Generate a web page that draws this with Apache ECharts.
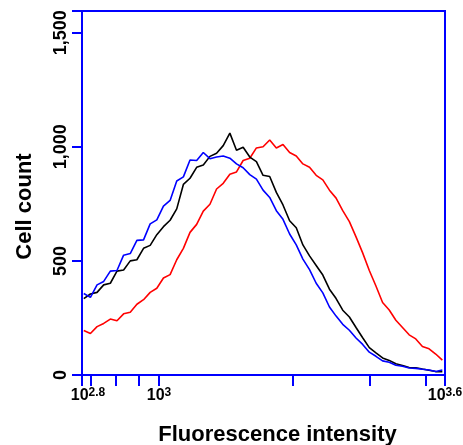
<!DOCTYPE html>
<html>
<head>
<meta charset="utf-8">
<style>
  html, body { margin: 0; padding: 0; background: #fff; }
  #histChart { width: 463px; height: 445px; }
</style>
<script src="https://cdn.jsdelivr.net/npm/echarts@6/dist/echarts.min.js"></script>
</head>
<body>
<div id="histChart"></div>

<script>
// bin positions, log10 of fluorescence intensity
const binLog = [2.83, 2.845, 2.86, 2.875, 2.89, 2.905, 2.92, 2.935, 2.95, 2.965,
  2.98, 2.995, 3.01, 3.025, 3.04, 3.055, 3.07, 3.085, 3.1, 3.115,
  3.13, 3.145, 3.16, 3.175, 3.19, 3.205, 3.22, 3.235, 3.25, 3.265,
  3.28, 3.295, 3.31, 3.325, 3.34, 3.355, 3.37, 3.385, 3.4, 3.415,
  3.43, 3.445, 3.46, 3.475, 3.49, 3.505, 3.52, 3.535, 3.55, 3.565,
  3.58, 3.595, 3.61, 3.625, 3.64];

// cell counts per bin
const redCounts = [195, 182, 212, 226, 245, 238, 268, 275, 310, 330,
  362, 380, 425, 440, 505, 555, 625, 660, 718, 748,
  815, 840, 880, 890, 940, 950, 995, 1000, 1030, 995,
  1010, 975, 960, 925, 910, 875, 855, 810, 775, 720,
  672, 605, 535, 458, 390, 318, 285, 240, 208, 176,
  158, 125, 115, 92, 65];
const blackCounts = [335, 355, 362, 395, 402, 455, 460, 500, 505, 555,
  568, 615, 650, 678, 728, 835, 862, 910, 920, 958,
  972, 1005, 1060, 985, 998, 955, 935, 875, 870, 800,
  745, 676, 645, 570, 522, 480, 438, 376, 335, 284,
  254, 208, 163, 120, 97, 75, 64, 49, 42, 33,
  32, 26, 21, 15, 14];
const blueCounts = [357, 340, 395, 410, 455, 458, 525, 532, 590, 592,
  662, 680, 740, 765, 850, 868, 942, 940, 975, 948,
  955, 960, 950, 925, 908, 878, 858, 810, 778, 720,
  682, 618, 570, 508, 462, 402, 360, 298, 258, 222,
  196, 162, 134, 100, 82, 62, 56, 43, 38, 31,
  29, 25, 22, 15, 22];

// axis ticks and labels
const xTicks = [2.826, 2.845, 2.903, 2.954, 3, 3.301, 3.477, 3.602, 3.646];
const xLabelValues = [2.826, 3, 3.646];
const xLabelExps = ['2.8', '3', '3.6'];
const yTicks = [0, 500, 1000, 1500, 1595];
const yLabelValues = [0, 500, 1000, 1500];

const axisBlue = '#0000ff';
const fontFamily = "'Liberation Sans', Arial, sans-serif";

const chart = echarts.init(document.getElementById('histChart'));

function toPairs(counts) {
  return binLog.map((x, i) => [x, counts[i]]);
}

function makeSeries(name, color, counts) {
  return {
    name: name,
    type: 'line',
    data: toPairs(counts),
    showSymbol: false,
    lineStyle: { color: color, width: 1.6 },
    itemStyle: { color: color }
  };
}

const option = {
  animation: false,
  backgroundColor: '#fff',
  grid: {
    left: 82,
    right: 18,
    top: 11,
    bottom: 70,
    outerBoundsMode: 'none',
    show: true,
    borderColor: axisBlue,
    borderWidth: 2
  },
  xAxis: {
    type: 'value',
    min: 2.826,
    max: 3.646,
    name: 'Fluorescence intensity',
    nameLocation: 'middle',
    nameGap: 49,
    nameTextStyle: {
      fontFamily: fontFamily,
      fontSize: 22,
      fontWeight: 'bold',
      color: '#000',
      padding: [0, 0, 0, 28]
    },
    axisLine: { lineStyle: { color: axisBlue, width: 2 } },
    axisTick: {
      customValues: xTicks,
      length: 11,
      lineStyle: { color: axisBlue, width: 2 }
    },
    axisLabel: {
      customValues: xLabelValues,
      margin: 12,
      color: '#000',
      fontFamily: fontFamily,
      formatter: function (v) {
        const i = xLabelValues.indexOf(v);
        const exp = i >= 0 ? xLabelExps[i] : '';
        return (i === 0 ? '{b0|10}' : '{b|10}') + '{s|' + exp + '}';
      },
      rich: {
        b: { fontSize: 16, fontWeight: 'bold', fontFamily: fontFamily, color: '#000' },
        b0: { fontSize: 16, fontWeight: 'bold', fontFamily: fontFamily, color: '#000', padding: [0, 0, 0, 12] },
        s: { fontSize: 12, fontWeight: 'bold', fontFamily: fontFamily, color: '#000', verticalAlign: 'top', padding: [0, 0, 6, 0] }
      }
    },
    splitLine: { show: false }
  },
  yAxis: {
    type: 'value',
    min: 0,
    max: 1595,
    name: 'Cell count',
    nameLocation: 'middle',
    nameGap: 46,
    nameTextStyle: {
      fontFamily: fontFamily,
      fontSize: 22,
      fontWeight: 'bold',
      color: '#000',
      padding: [0, 27, 0, 0]
    },
    axisLine: { show: true, lineStyle: { color: axisBlue, width: 2 } },
    axisTick: {
      show: true,
      customValues: yTicks,
      length: 10,
      lineStyle: { color: axisBlue, width: 2 }
    },
    axisLabel: {
      customValues: yLabelValues,
      rotate: 90,
      margin: 12,
      color: '#000',
      fontFamily: fontFamily,
      fontSize: 18,
      fontWeight: 'bold',
      formatter: function (v) {
        return v.toLocaleString('en-US');
      }
    },
    splitLine: { show: false }
  },
  series: [
    makeSeries('red', '#ff0000', redCounts),
    makeSeries('black', '#000000', blackCounts),
    makeSeries('blue', '#0000ff', blueCounts)
  ]
};

chart.setOption(option);
</script>
</body>
</html>
